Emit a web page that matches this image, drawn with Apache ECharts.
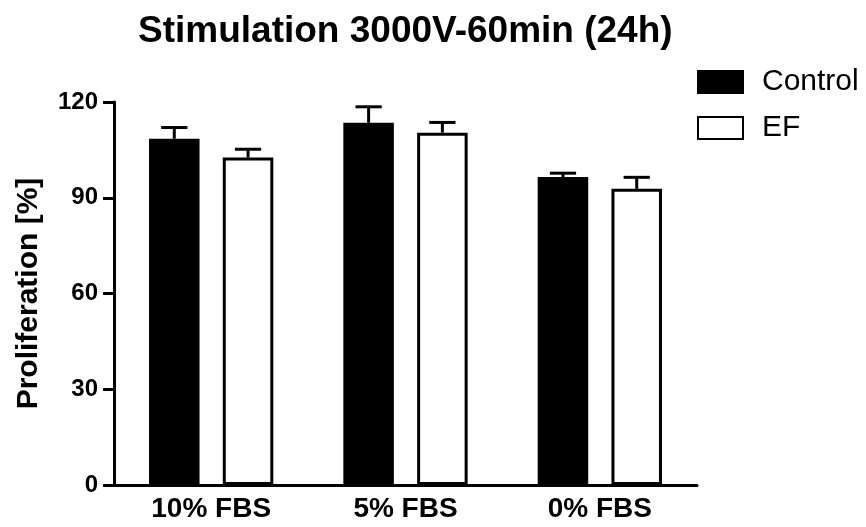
<!DOCTYPE html>
<html><head><meta charset="utf-8">
<script src="https://cdn.jsdelivr.net/npm/echarts@6/dist/echarts.min.js"></script>
<style>html,body{margin:0;padding:0;background:#fff}#c{width:866px;height:527px}</style>
</head><body><div id="c"></div>
<script>
var categories = ['10% FBS', '5% FBS', '0% FBS'];
var controlMean = [108.5, 113.5, 96.5];
var controlErr = [3.5, 5.0, 1.2];
var efMean = [102.6, 110.4, 92.8];
var efErr = [2.6, 3.2, 3.6];
var yTicks = [0, 30, 60, 90, 120];

var BAR_W = 0.26, GAP = 0.46;
var FONT = '"Liberation Sans", Arial, sans-serif';

function errSeries(name, means, errs, side) {
  return {
    type: 'custom', name: name + ' err', silent: true, z: 5,
    data: means.map(function (m, i) { return [i, m, m + errs[i]]; }),
    renderItem: function (params, api) {
      var i = api.value(0);
      var band = api.size([1, 0])[0];
      var bw = band * BAR_W, gap = bw * GAP;
      var off = side * (bw + gap) / 2;
      var p0 = api.coord([i, api.value(1)]);
      var p1 = api.coord([i, api.value(2)]);
      var x = p0[0] + off;
      var capHalf = bw * 0.26;
      var st = { stroke: '#000', lineWidth: 3 };
      return { type: 'group', children: [
        { type: 'line', shape: { x1: x, y1: p0[1], x2: x, y2: p1[1] }, style: st },
        { type: 'line', shape: { x1: x - capHalf, y1: p1[1], x2: x + capHalf, y2: p1[1] }, style: st }
      ]};
    }
  };
}

var chart = echarts.init(document.getElementById('c'));
chart.setOption({
  animation: false,
  title: { text: 'Stimulation 3000V-60min (24h)', left: 133, top: 8,
    textStyle: { fontFamily: FONT, fontSize: 37, fontWeight: 'bold', color: '#000' } },
  legend: { orient: 'vertical', left: 692, top: 62, itemWidth: 45, itemHeight: 22, itemGap: 16,
    icon: 'rect',
    data: ['Control', 'EF'],
    textStyle: { fontFamily: FONT, fontSize: 30, lineHeight: 28, color: '#000', padding: [0, 0, 0, 14] } },
  grid: { left: 114, right: 169, top: 102, bottom: 42 },
  xAxis: { type: 'category', data: categories,
    axisLine: { lineStyle: { color: '#000', width: 3 } },
    axisTick: { alignWithLabel: true, length: 8, lineStyle: { width: 3, color: '#000' } },
    axisLabel: { fontFamily: FONT, fontSize: 28, fontWeight: 'bold', color: '#000', margin: 10 } },
  yAxis: { type: 'value', min: yTicks[0], max: yTicks[yTicks.length - 1], interval: 30,
    name: 'Proliferation [%]', nameLocation: 'middle', nameGap: 70,
    nameTextStyle: { fontFamily: FONT, fontSize: 30, fontWeight: 'bold', color: '#000' },
    splitLine: { show: false },
    axisLine: { show: true, lineStyle: { color: '#000', width: 3 } },
    axisTick: { show: true, length: 11, lineStyle: { width: 3, color: '#000' } },
    axisLabel: { fontFamily: FONT, fontSize: 24, fontWeight: 'bold', color: '#000', margin: 16 } },
  series: [
    { name: 'Control', type: 'bar', data: controlMean, barWidth: (BAR_W * 100) + '%', barGap: (GAP * 100) + '%',
      itemStyle: { color: '#000', borderColor: '#000', borderWidth: 3 } },
    { name: 'EF', type: 'bar', data: efMean, barWidth: (BAR_W * 100) + '%',
      itemStyle: { color: '#fff', borderColor: '#000', borderWidth: 3 } },
    errSeries('Control', controlMean, controlErr, -1),
    errSeries('EF', efMean, efErr, 1)
  ]
});
</script></body></html>
